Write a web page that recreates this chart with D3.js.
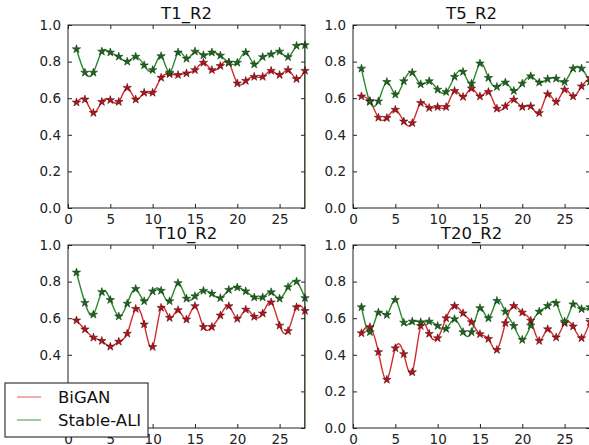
<!DOCTYPE html>
<html>
<head>
<meta charset="utf-8">
<script src="https://cdn.jsdelivr.net/npm/d3@7"></script>
<style>
  body { margin: 0; background: #fff; }
  svg { font-family: "DejaVu Sans", sans-serif; }
</style>
</head>
<body>
<div id="chart"></div>
<script>
// epochs 1..28, values
const epochs = d3.range(1, 29);
const titles = ["T1_R2", "T5_R2", "T10_R2", "T20_R2"];
const seriesNames = ["BiGAN", "Stable-ALI"];
const xTicks = [0, 5, 10, 15, 20, 25];
const yTicks = [0, 0.2, 0.4, 0.6, 0.8, 1.0];
const dropTo = 0; // lines fall to zero at the last epoch

const bigan_T1 = [0.577,0.593,0.52,0.58,0.59,0.58,0.657,0.593,0.63,0.63,0.712,0.732,0.727,0.736,0.754,0.794,0.754,0.776,0.794,0.681,0.695,0.717,0.717,0.75,0.727,0.754,0.705,0.75];
const ali_T1   = [0.868,0.74,0.74,0.855,0.85,0.827,0.80,0.827,0.78,0.754,0.83,0.74,0.85,0.816,0.855,0.835,0.85,0.833,0.794,0.794,0.85,0.785,0.825,0.84,0.855,0.825,0.886,0.89];
const bigan_T5 = [0.61,0.585,0.494,0.492,0.537,0.473,0.464,0.574,0.547,0.552,0.552,0.64,0.607,0.653,0.61,0.634,0.543,0.556,0.592,0.552,0.556,0.519,0.622,0.58,0.647,0.61,0.665,0.71];
const ali_T5   = [0.762,0.58,0.583,0.689,0.62,0.693,0.74,0.676,0.693,0.647,0.634,0.717,0.744,0.68,0.79,0.711,0.662,0.686,0.64,0.68,0.72,0.686,0.704,0.707,0.689,0.762,0.762,0.69];
const bigan_T10 = [0.588,0.539,0.494,0.476,0.445,0.472,0.516,0.651,0.566,0.443,0.657,0.602,0.644,0.593,0.666,0.552,0.552,0.615,0.666,0.597,0.647,0.608,0.626,0.687,0.56,0.53,0.66,0.64];
const ali_T10   = [0.85,0.684,0.62,0.743,0.70,0.61,0.68,0.76,0.693,0.747,0.75,0.693,0.792,0.707,0.72,0.75,0.734,0.71,0.755,0.768,0.747,0.714,0.714,0.742,0.707,0.77,0.80,0.71];
const bigan_T20 = [0.518,0.551,0.415,0.264,0.436,0.404,0.305,0.558,0.515,0.491,0.60,0.667,0.627,0.578,0.513,0.487,0.427,0.573,0.667,0.631,0.587,0.476,0.54,0.495,0.573,0.555,0.491,0.58];
const ali_T20   = [0.66,0.524,0.631,0.618,0.70,0.576,0.582,0.578,0.582,0.558,0.542,0.595,0.524,0.524,0.655,0.60,0.695,0.636,0.558,0.482,0.56,0.636,0.667,0.682,0.582,0.676,0.65,0.66];

const panels = [
  { title: titles[0], bigan: bigan_T1,  ali: ali_T1,  left: 68,  top: 25 },
  { title: titles[1], bigan: bigan_T5,  ali: ali_T5,  left: 353, top: 25 },
  { title: titles[2], bigan: bigan_T10, ali: ali_T10, left: 68,  top: 245 },
  { title: titles[3], bigan: bigan_T20, ali: ali_T20, left: 353, top: 245 }
];

const W = 589, H = 445;
const pw = 237, ph = 183;
const colors = {
  line: ["#d42b2b", "#2a8a2a"],
  fill: ["#b3141e", "#1d661d"],
  edge: ["#400000", "#0a2a0a"],
  legend: ["#e05a5a", "#3f9a3f"]
};

const svg = d3.select("#chart").append("svg")
  .attr("width", W).attr("height", H);

const x = d3.scaleLinear().domain([0, 28]).range([0, pw]);
const y = d3.scaleLinear().domain([0, 1]).range([ph, 0]);

const curve = d3.line()
  .x(d => x(d[0])).y(d => y(d[1]))
  .curve(d3.curveNatural);
const straight = d3.line().x(d => x(d[0])).y(d => y(d[1]));
const star = d3.symbol().type(d3.symbolStar).size(22);

panels.forEach((p, k) => {
  const g = svg.append("g").attr("transform", `translate(${p.left},${p.top})`);
  const clipId = "clip" + k;
  g.append("clipPath").attr("id", clipId)
    .append("rect").attr("width", pw).attr("height", ph);

  const plot = g.append("g").attr("clip-path", `url(#${clipId})`);
  [p.bigan, p.ali].forEach((vals, s) => {
    const pts = epochs.map((e, i) => [e, vals[i]]);
    const last = pts[pts.length - 1];
    plot.append("path")
      .attr("d", straight([last, [last[0], dropTo]]))
      .attr("fill", "none").attr("stroke", colors.line[s]).attr("stroke-width", 1.4);
    plot.append("path")
      .attr("d", curve(pts))
      .attr("fill", "none").attr("stroke", colors.line[s]).attr("stroke-width", 1.4);
  });
  [p.bigan, p.ali].forEach((vals, s) => {
    g.selectAll(null).data(epochs.map((e, i) => [e, vals[i]]))
      .join("path")
      .attr("d", star)
      .attr("transform", d => `translate(${x(d[0])},${y(d[1])})`)
      .attr("fill", colors.fill[s])
      .attr("stroke", colors.edge[s]).attr("stroke-width", 0.5);
  });

  // axes, classic style: ticks inward on all four sides
  const axB = g.append("g").attr("transform", `translate(0,${ph})`)
    .call(d3.axisBottom(x).tickValues(xTicks).tickSize(-4).tickPadding(6).tickFormat(d3.format("d")));
  const axT = g.append("g")
    .call(d3.axisTop(x).tickValues(xTicks).tickSize(-4).tickFormat(""));
  const axL = g.append("g")
    .call(d3.axisLeft(y).tickValues(yTicks).tickSize(-4).tickPadding(7).tickFormat(d3.format(".1f")));
  const axR = g.append("g").attr("transform", `translate(${pw},0)`)
    .call(d3.axisRight(y).tickValues(yTicks).tickSize(-4).tickFormat(""));
  [axB, axT, axL, axR].forEach(a => {
    a.select(".domain").remove();
    a.selectAll(".tick line").attr("stroke", "#222");
    a.selectAll("text").attr("font-size", 13.5).attr("fill", "#222")
      .attr("font-family", "DejaVu Sans, sans-serif");
  });
  g.append("rect").attr("width", pw).attr("height", ph)
    .attr("fill", "none").attr("stroke", "#222").attr("stroke-width", 1);

  g.append("text")
    .attr("x", pw / 2).attr("y", -6)
    .attr("text-anchor", "middle")
    .attr("font-size", 16.5).attr("fill", "#111")
    .text(p.title);
});

// legend
const lg = svg.append("g").attr("transform", "translate(5,383)");
lg.append("rect").attr("width", 143).attr("height", 54)
  .attr("fill", "#fff").attr("stroke", "#111").attr("stroke-width", 1);
seriesNames.forEach((name, i) => {
  const yy = 14 + i * 23;
  lg.append("line").attr("x1", 12).attr("x2", 36).attr("y1", yy).attr("y2", yy)
    .attr("stroke", colors.legend[i]).attr("stroke-width", 1);
  lg.append("text").attr("x", 53).attr("y", yy + 6)
    .attr("font-size", 16.5).attr("fill", "#111").text(name);
});
</script>
</body>
</html>
